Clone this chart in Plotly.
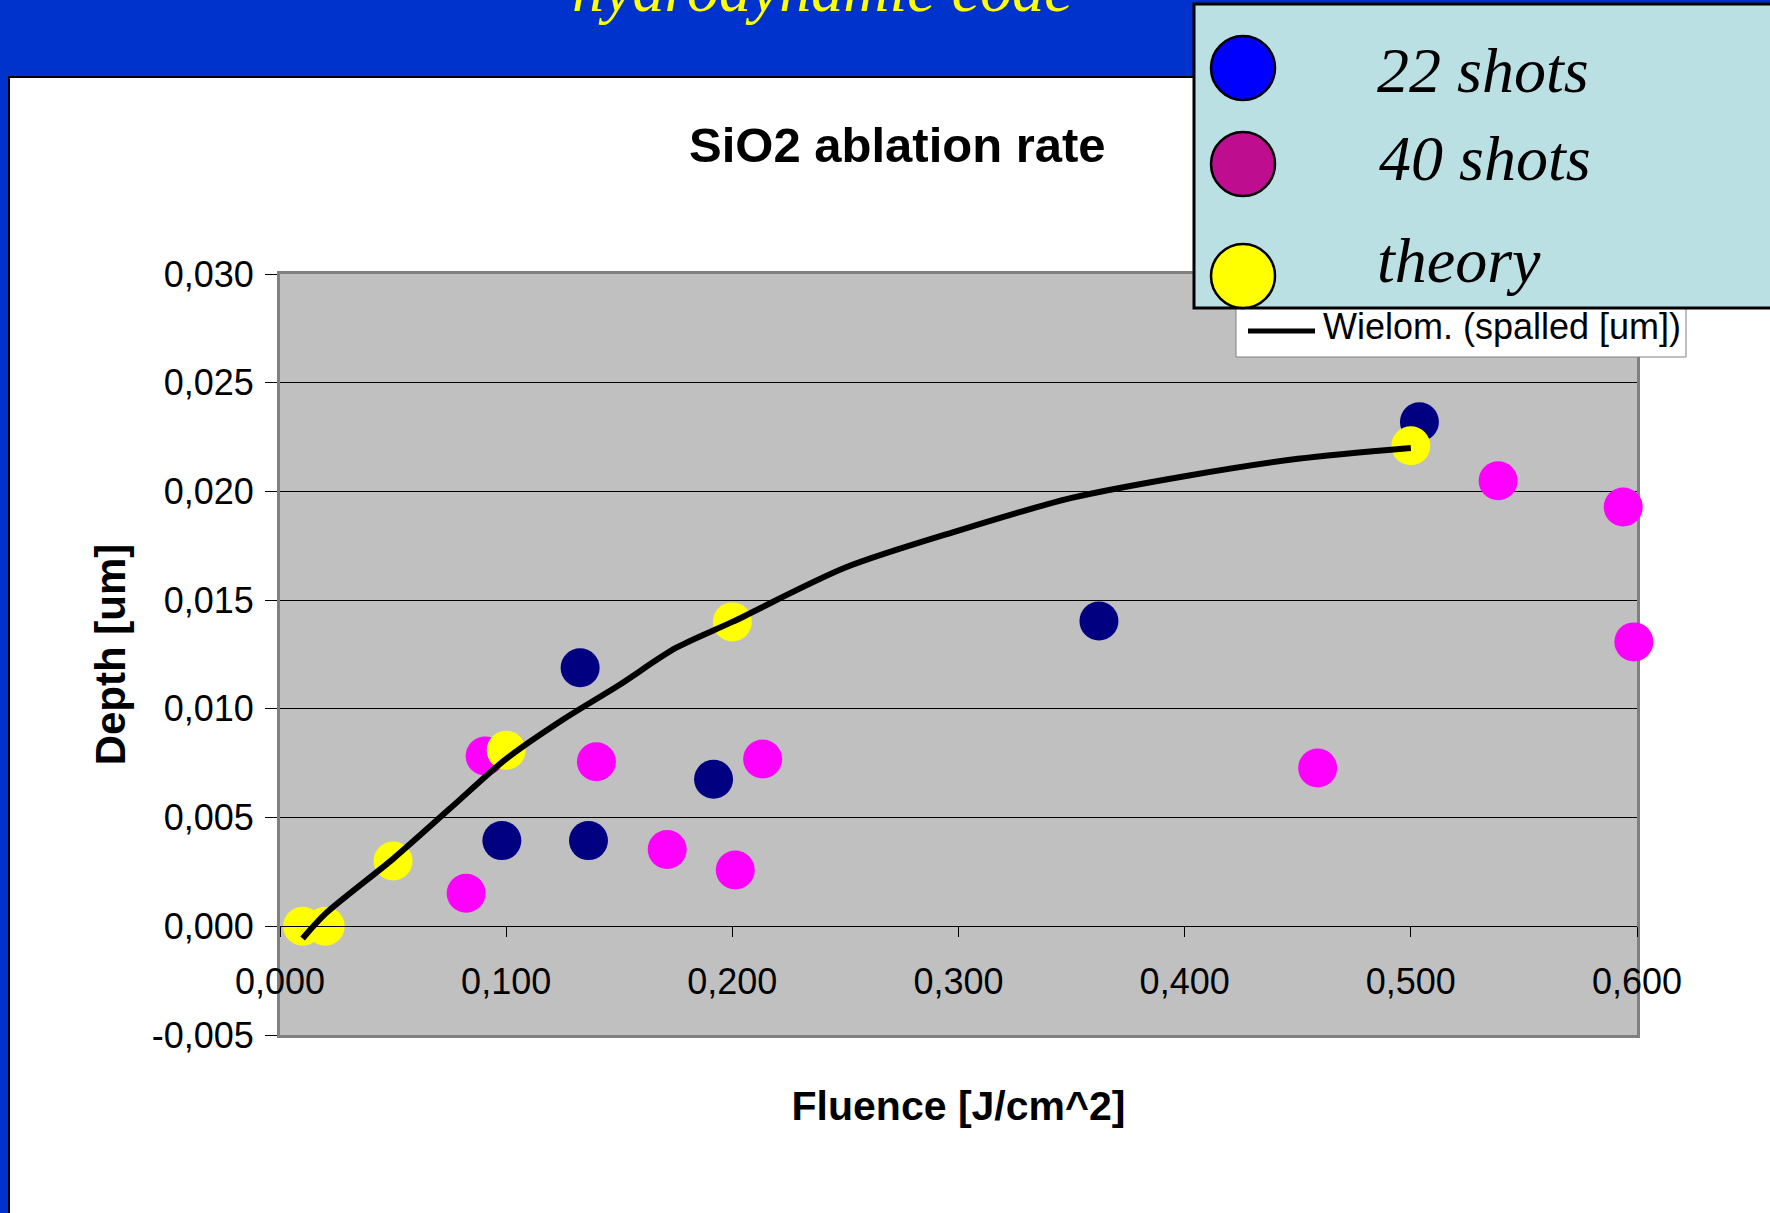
import plotly.graph_objects as go

# ---------------- data ----------------
shots22_x = [0.1327, 0.0981, 0.1364, 0.1917, 0.3621, 0.5038]
shots22_y = [0.01189, 0.00394, 0.00394, 0.00676, 0.01404, 0.0232]

shots40_x = [0.0907, 0.0823, 0.1399, 0.1712, 0.2013, 0.2134, 0.4588, 0.5386, 0.5939, 0.5986]
shots40_y = [0.00783, 0.00152, 0.00757, 0.00353, 0.00259, 0.00769, 0.00728, 0.02049, 0.01928, 0.01308]

theory_x = [0.01, 0.02, 0.05, 0.10, 0.20, 0.50]
theory_y = [0.0, 0.0, 0.0030, 0.0081, 0.0140, 0.0221]

fit_x = [0.01, 0.02, 0.05, 0.075, 0.10, 0.125, 0.15, 0.175, 0.20, 0.25, 0.30, 0.35, 0.40, 0.45, 0.50]
fit_y = [-0.00056, 0.00057, 0.0031, 0.0054, 0.0077, 0.0095, 0.0111, 0.0128, 0.0140,
         0.0165, 0.0182, 0.0197, 0.0207, 0.0215, 0.0220]

x_ticks = [0.0, 0.1, 0.2, 0.3, 0.4, 0.5, 0.6]
x_ticklabels = ["0,000", "0,100", "0,200", "0,300", "0,400", "0,500", "0,600"]
y_ticks = [-0.005, 0.0, 0.005, 0.010, 0.015, 0.020, 0.025, 0.030]
y_ticklabels = ["-0,005", "0,000", "0,005", "0,010", "0,015", "0,020", "0,025", "0,030"]
x_range = [0.0, 0.6]
y_range = [-0.005, 0.030]

legend_labels = ["22 shots", "40 shots", "theory"]
legend_colors = ["#0000FF", "#BF0D8F", "#FFFF00"]
fit_label = "Wielom. (spalled [um])"

# ---------------- layout helpers ----------------
W, H = 1770, 1213
ML, MR, MT, MB = 280, 133, 274, 178
PW = W - ML - MR
PH = H - MT - MB


def px(x):
    return (x - ML) / PW


def py(y):
    return (H - MB - y) / PH


SANS = "Liberation Sans, Arial, sans-serif"
SERIF = "Liberation Serif, Times New Roman, serif"

fig = go.Figure()

fig.add_trace(go.Scatter(x=shots22_x, y=shots22_y, mode="markers", name="22 shots",
                         marker=dict(color="#000080", size=39, line=dict(width=0)),
                         cliponaxis=False, showlegend=False))
fig.add_trace(go.Scatter(x=shots40_x, y=shots40_y, mode="markers", name="40 shots",
                         marker=dict(color="#FF00FF", size=39, line=dict(width=0)),
                         cliponaxis=False, showlegend=False))
fig.add_trace(go.Scatter(x=theory_x, y=theory_y, mode="markers", name="theory",
                         marker=dict(color="#FFFF00", size=39, line=dict(width=0)),
                         cliponaxis=False, showlegend=False))
fig.add_trace(go.Scatter(x=fit_x, y=fit_y, mode="lines", name=fit_label,
                         line=dict(color="black", width=6, shape="spline", smoothing=0.8),
                         cliponaxis=False, showlegend=False))
# invisible trace on the frame axis so that it is drawn
fig.add_trace(go.Scatter(x=[None], y=[None], xaxis="x2", yaxis="y", showlegend=False,
                         hoverinfo="skip"))

shapes = []
# white slide panel
shapes.append(dict(type="rect", xref="paper", yref="paper",
                   x0=px(9), x1=px(1800), y0=py(1260), y1=py(77),
                   fillcolor="white", line=dict(color="black", width=2), layer="below"))
# grey plot area
shapes.append(dict(type="rect", xref="paper", yref="paper", x0=0, x1=1, y0=0, y1=1,
                   fillcolor="#C0C0C0", line=dict(width=0), layer="below"))
# trendline legend box
shapes.append(dict(type="rect", xref="paper", yref="paper",
                   x0=px(1236), x1=px(1686), y0=py(357), y1=py(306),
                   fillcolor="white", line=dict(color="#808080", width=1), layer="above"))
shapes.append(dict(type="line", xref="paper", yref="paper",
                   x0=px(1248), x1=px(1315), y0=py(331), y1=py(331),
                   line=dict(color="black", width=5), layer="above"))
# cyan legend box
shapes.append(dict(type="rect", xref="paper", yref="paper",
                   x0=px(1194), x1=px(1800), y0=py(308), y1=py(4),
                   fillcolor="#BBE0E3", line=dict(color="black", width=3), layer="above"))
circle_cy = [68, 164, 276]
for c, cy in zip(legend_colors, circle_cy):
    shapes.append(dict(type="circle", xref="paper", yref="paper",
                       x0=px(1243 - 32), x1=px(1243 + 32), y0=py(cy + 32), y1=py(cy - 32),
                       fillcolor=c, line=dict(color="black", width=2.5), layer="above"))

annotations = []
annotations.append(dict(text="hydrodynamic code", xref="paper", yref="paper",
                        x=px(822), y=py(-11), xanchor="center", yanchor="middle",
                        showarrow=False,
                        font=dict(family=SERIF, size=64, color="#FFFF00", style="italic")))
annotations.append(dict(text="<b>SiO2 ablation rate</b>", xref="paper", yref="paper",
                        x=px(897), y=py(145), xanchor="center", yanchor="middle",
                        showarrow=False, font=dict(family=SANS, size=49, color="black")))
text_pos = [(1375, 70), (1377, 158), (1375, 261)]
for lab, (tx, ty) in zip(legend_labels, text_pos):
    annotations.append(dict(text=lab, xref="paper", yref="paper", x=px(tx), y=py(ty),
                            xanchor="left", yanchor="middle", showarrow=False,
                            font=dict(family=SERIF, size=64, color="black", style="italic")))
annotations.append(dict(text=fit_label, xref="paper", yref="paper", x=px(1321), y=py(326),
                        xanchor="left", yanchor="middle", showarrow=False,
                        font=dict(family=SANS, size=36, color="black")))

zero_pos = (0 - y_range[0]) / (y_range[1] - y_range[0])

fig.update_layout(
    width=W, height=H,
    margin=dict(l=ML, r=MR, t=MT, b=MB, autoexpand=False),
    paper_bgcolor="#0033CC",
    plot_bgcolor="rgba(0,0,0,0)",
    showlegend=False,
    shapes=shapes,
    annotations=annotations,
    xaxis=dict(range=x_range, tickvals=x_ticks, ticktext=x_ticklabels,
               anchor="free", position=zero_pos,
               showline=True, linecolor="black", linewidth=1,
               ticks="outside", ticklen=10, tickwidth=1, tickcolor="black",
               ticklabelstandoff=14,
               showgrid=False, zeroline=False,
               tickfont=dict(family=SANS, size=36, color="black"),
               title=dict(text="<b>Fluence [J/cm^2]</b>", standoff=89,
                          font=dict(family=SANS, size=41, color="black"))),
    xaxis2=dict(range=x_range, overlaying="x", anchor="y", side="bottom",
                showline=True, mirror=True, linecolor="#808080", linewidth=3,
                ticks="", showticklabels=False, showgrid=False, zeroline=False,
                layer="below traces"),
    yaxis=dict(range=y_range, tickvals=y_ticks, ticktext=y_ticklabels,
               showline=True, mirror=True, linecolor="#808080", linewidth=3,
               layer="below traces",
               zeroline=False,
               showgrid=True, gridcolor="black", gridwidth=1,
               ticks="outside", ticklen=12, tickwidth=1, tickcolor="black",
               ticklabelstandoff=4,
               tickfont=dict(family=SANS, size=36, color="black"),
               title=dict(text="<b>Depth [um]</b>", standoff=14,
                          font=dict(family=SANS, size=42, color="black"))),
)

fig.write_html("out.html")
